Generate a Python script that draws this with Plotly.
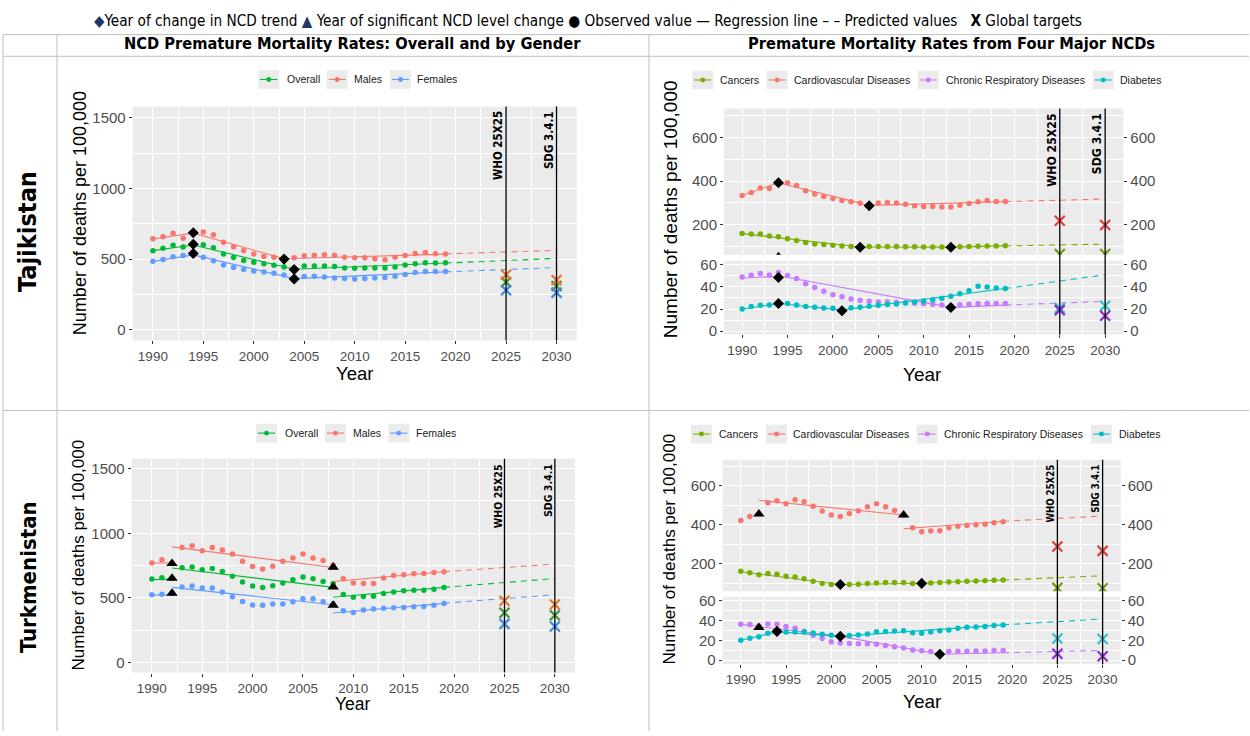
import plotly.graph_objects as go

W, H = 1250, 736

# ---------------- data ----------------
YEARS = list(range(1990, 2020))
TARGET_YEARS = [2025, 2030]
PRED_YEARS = [2019, 2030]

# Tajikistan: overall & by gender (deaths per 100,000)
taj_overall = [560, 577, 598, 586, 605, 602, 581, 537, 512, 491, 477, 467, 456, 444, 426,
               451, 451, 451, 447, 437, 435, 437, 437, 437, 444, 458, 467, 474, 472, 474]
taj_males = [644, 659, 683, 648, 686, 692, 673, 620, 588, 561, 537, 519, 513, 500, 510,
             523, 528, 530, 527, 514, 509, 509, 503, 496, 514, 526, 540, 546, 538, 537]
taj_females = [484, 498, 516, 526, 537, 514, 488, 458, 440, 426, 416, 409, 400, 388, 360,
               377, 379, 374, 367, 363, 360, 363, 367, 370, 379, 391, 405, 412, 412, 412]
taj_overall_reg = [(1990, 560, 1994, 600), (1994, 600, 2004, 428), (2004, 428, 2019, 472)]
taj_males_reg = [(1990, 642, 1994, 684), (1994, 684, 2003, 503), (2003, 503, 2019, 535)]
taj_females_reg = [(1990, 484, 1994, 530), (1994, 530, 2004, 362), (2004, 362, 2019, 410)]
taj_overall_pred = [472, 505]
taj_males_pred = [537, 562]
taj_females_pred = [410, 440]
taj_gender_trend_pts = [(1994, 686), (2003, 500), (1994, 605), (2004, 426), (1994, 540), (2004, 360)]
taj_overall_target = [337, 310]
taj_males_target = [390, 352]
taj_females_target = [280, 263]

# Tajikistan: four major NCDs
taj_cancers = [161, 158, 158, 149, 146, 137, 128, 119, 113, 110, 107, 104, 101, 98, 101,
               101, 101, 101, 100, 100, 99, 99, 99, 98, 100, 101, 102, 103, 104, 105]
taj_cvd = [334, 348, 368, 366, 392, 392, 380, 356, 341, 329, 320, 311, 305, 299, 287,
           300, 302, 300, 294, 287, 284, 284, 281, 281, 290, 297, 305, 311, 307, 307]
taj_crd = [49, 50.5, 52, 50.8, 53, 50.3, 47.5, 42.8, 39.4, 36, 33, 31, 29, 28, 27,
           26.4, 26.4, 26, 25.6, 25.3, 24.8, 24.2, 23.6, 21.4, 23.8, 24.2, 24.7, 25, 25, 25]
taj_diab = [20, 22.3, 23.5, 23.7, 25, 25, 23.7, 22.3, 21.5, 21, 20.7, 18.4, 21.2, 21.5, 22.4,
            23.3, 24, 24.6, 25.5, 26.4, 27.3, 28.3, 29.8, 31.6, 33.8, 36.6, 40.6, 40, 39, 38.5]
taj_cancers_reg = [(1990, 160, 2003, 99), (2003, 99, 2013, 98.5), (2013, 98.5, 2019, 104)]
taj_cvd_reg = [(1990, 335, 1994, 392), (1994, 392, 2004, 289), (2004, 289, 2019, 306)]
taj_crd_reg = [(1990, 48, 1994, 49.5), (1994, 50, 2013, 21.5), (2013, 21.5, 2019, 23.5)]
taj_diab_reg = [(1990, 19.8, 1994, 25), (1994, 25, 2001, 19), (2001, 19, 2019, 38.5)]
taj_cancers_pred = [104, 112]
taj_cvd_pred = [306, 318]
taj_crd_pred = [23.5, 27]
taj_diab_pred = [38.5, 51]
taj_ncd_upper_trend_pts = [(1994, 392), (2004, 287), (2003, 98), (2013, 98)]
taj_ncd_upper_level_pts = [(1994, 57)]
taj_ncd_lower_trend_pts = [(1994, 48.5), (2013, 21.4), (1994, 25), (2001, 18.5)]
taj_cancers_target = [67, 67]
taj_cvd_target = [219, 199]
taj_crd_target = [19, 14]
taj_diab_target = [21, 23]

# Turkmenistan: overall & by gender
tkm_overall = [646, 656, 652, 733, 740, 718, 728, 705, 667, 623, 593, 580, 595, 616, 641,
               662, 649, 628, 612, 527, 506, 511, 514, 534, 547, 555, 560, 560, 567, 580]
tkm_males = [771, 796, 770, 891, 903, 865, 891, 870, 840, 784, 743, 723, 746, 784, 809,
             840, 809, 789, 755, 649, 616, 611, 611, 654, 674, 679, 687, 690, 697, 702]
tkm_females = [524, 529, 535, 585, 593, 578, 578, 547, 509, 473, 445, 443, 453, 453, 471,
               494, 494, 471, 455, 402, 387, 407, 415, 420, 425, 427, 433, 435, 443, 458]
tkm_overall_reg = [(1990, 642, 1992, 646), (1992, 732, 2008, 582), (2008, 506, 2019, 582)]
tkm_males_reg = [(1990, 770, 1992, 770), (1992, 895, 2008, 735), (2008, 627, 2019, 703)]
tkm_females_reg = [(1990, 522, 1992, 525), (1992, 582, 2008, 448), (2008, 384, 2019, 458)]
tkm_overall_pred = [582, 650]
tkm_males_pred = [703, 762]
tkm_females_pred = [460, 525]
tkm_gender_level_pts = [(1992, 766), (1992, 652), (1992, 537), (2008, 738), (2008, 585), (2008, 443)]
tkm_overall_target = [386, 366]
tkm_males_target = [478, 450]
tkm_females_target = [300, 280]

# Turkmenistan: four major NCDs
tkm_cancers = [163, 155, 145, 152, 148, 138, 133, 125, 112, 100, 95, 97, 95, 97, 100,
               103, 105, 105, 105, 100, 103, 103, 105, 108, 110, 112, 113, 115, 117, 118]
tkm_cvd = [422, 442, 455, 513, 523, 508, 528, 517, 495, 470, 450, 442, 458, 472, 492,
           507, 492, 473, 450, 385, 365, 368, 370, 385, 393, 397, 400, 403, 410, 415]
tkm_crd = [36.2, 35.8, 34.5, 36.5, 36.2, 33.9, 32.2, 29, 25, 21.8, 18.6, 17.3, 16.8, 16.6, 16.5,
           16, 14.8, 13.5, 12.4, 10.4, 9.5, 8.9, 6.2, 8.8, 9, 9, 9.3, 9.4, 9.8, 9.8]
tkm_diab = [20, 22, 23.5, 27, 29, 28.3, 28.3, 28.7, 27.4, 26, 25, 24, 24.8, 25.4, 26.4,
            28.7, 29, 29.3, 29.6, 27.7, 27, 28.3, 29.6, 30.3, 32.2, 33.2, 33.5, 33.9, 34.9, 35.5]
tkm_cancers_reg = [(1990, 160, 2001, 95), (2001, 95, 2010, 102), (2010, 102, 2019, 118)]
tkm_cvd_reg = [(1992, 525, 2008, 450), (2008, 380, 2019, 418)]
tkm_crd_reg = [(1990, 36, 2001, 24), (2001, 24, 2012, 6), (2012, 6, 2019, 7.5)]
tkm_diab_reg = [(1990, 20, 1994, 28.5), (1994, 28.5, 2001, 24), (2001, 24, 2019, 35.5)]
tkm_cancers_pred = [118, 140]
tkm_cvd_pred = [418, 445]
tkm_crd_pred = [7.5, 10]
tkm_diab_pred = [35.5, 41.5]
tkm_ncd_upper_trend_pts = [(2001, 95), (2010, 101)]
tkm_ncd_upper_level_pts = [(1992, 455), (2008, 450)]
tkm_ncd_lower_trend_pts = [(1994, 29), (2001, 24), (2012, 6)]
tkm_ncd_lower_level_pts = [(1992, 33)]
tkm_cancers_target = [78, 76]
tkm_cvd_target = [289, 267]
tkm_crd_target = [6.6, 4]
tkm_diab_target = [21.8, 21.4]

# ---------------- style ----------------
C_OVERALL, C_MALES, C_FEMALES = "#00BA38", "#F8766D", "#619CFF"
C_CAN, C_CVD, C_CRD, C_DIA = "#7CAE00", "#F8766D", "#C77CFF", "#00BFC4"
T_OVERALL, T_MALES, T_FEMALES = "#3C9A34", "#E8772A", "#3D8FE3"
T_CAN, T_CVD, T_CRD, T_DIA = "#6E9E12", "#E63B40", "#8E2BD8", "#2DC2C8"

SANS = "Liberation Sans, Arial, Helvetica, sans-serif"
NARROW = "Liberation Sans Narrow, Arial Narrow, DejaVu Sans Condensed, sans-serif"
TICKFONT = dict(family=SANS, size=13.5, color="#4D4D4D")
GRID = "#FFFFFF"


def fx(p):
    return p / W


def fy(p):
    return 1 - p / H


fig = go.Figure()


def seg_xy(segs):
    xs, ys = [], []
    for x0, y0, x1, y1 in segs:
        xs += [x0, x1, None]
        ys += [y0, y1, None]
    return xs, ys


def draw_series(xa, ya, vals, reg, pred, color):
    fig.add_trace(go.Scatter(x=YEARS, y=vals, mode="markers", xaxis=xa, yaxis=ya,
                             marker=dict(color=color, size=5.5), showlegend=False, hoverinfo="skip"))
    sx, sy = seg_xy(reg)
    fig.add_trace(go.Scatter(x=sx, y=sy, mode="lines", xaxis=xa, yaxis=ya,
                             line=dict(color=color, width=1.1), showlegend=False, hoverinfo="skip"))
    fig.add_trace(go.Scatter(x=PRED_YEARS, y=pred, mode="lines", xaxis=xa, yaxis=ya,
                             line=dict(color=color, width=1.1, dash="6px,5px"),
                             showlegend=False, hoverinfo="skip"))


def draw_points(xa, ya, pts, symbol, size):
    if not pts:
        return
    fig.add_trace(go.Scatter(x=[p[0] for p in pts], y=[p[1] for p in pts], mode="markers",
                             xaxis=xa, yaxis=ya, marker=dict(color="black", size=size, symbol=symbol),
                             showlegend=False, hoverinfo="skip"))


def draw_target(xa, ya, vals, color):
    fig.add_trace(go.Scatter(x=TARGET_YEARS, y=vals, mode="markers", xaxis=xa, yaxis=ya,
                             marker=dict(symbol="x-thin", size=10, line=dict(color=color, width=2.2)),
                             showlegend=False, hoverinfo="skip"))


# ---- Tajikistan gender (x, y)
for vals, reg, pred, col in [(taj_overall, taj_overall_reg, taj_overall_pred, C_OVERALL),
                             (taj_males, taj_males_reg, taj_males_pred, C_MALES),
                             (taj_females, taj_females_reg, taj_females_pred, C_FEMALES)]:
    draw_series("x", "y", vals, reg, pred, col)
draw_points("x", "y", taj_gender_trend_pts, "diamond", 8.5)
for vals, col in [(taj_overall_target, T_OVERALL), (taj_males_target, T_MALES), (taj_females_target, T_FEMALES)]:
    draw_target("x", "y", vals, col)

# ---- Tajikistan NCDs upper (x2, y2) and lower (x3, y3)
draw_series("x2", "y2", taj_cvd, taj_cvd_reg, taj_cvd_pred, C_CVD)
draw_series("x2", "y2", taj_cancers, taj_cancers_reg, taj_cancers_pred, C_CAN)
draw_points("x2", "y2", taj_ncd_upper_trend_pts, "diamond", 8.5)
draw_points("x2", "y2", taj_ncd_upper_level_pts, "triangle-up", 9)
draw_target("x2", "y2", taj_cvd_target, T_CVD)
draw_target("x2", "y2", taj_cancers_target, T_CAN)
draw_series("x3", "y3", taj_crd, taj_crd_reg, taj_crd_pred, C_CRD)
draw_series("x3", "y3", taj_diab, taj_diab_reg, taj_diab_pred, C_DIA)
draw_points("x3", "y3", taj_ncd_lower_trend_pts, "diamond", 8.5)
draw_target("x3", "y3", taj_diab_target, T_DIA)
draw_target("x3", "y3", taj_crd_target, T_CRD)

# ---- Turkmenistan gender (x4, y4)
for vals, reg, pred, col in [(tkm_overall, tkm_overall_reg, tkm_overall_pred, C_OVERALL),
                             (tkm_males, tkm_males_reg, tkm_males_pred, C_MALES),
                             (tkm_females, tkm_females_reg, tkm_females_pred, C_FEMALES)]:
    draw_series("x4", "y4", vals, reg, pred, col)
draw_points("x4", "y4", tkm_gender_level_pts, "triangle-up", 10)
for vals, col in [(tkm_overall_target, T_OVERALL), (tkm_males_target, T_MALES), (tkm_females_target, T_FEMALES)]:
    draw_target("x4", "y4", vals, col)

# ---- Turkmenistan NCDs upper (x5, y5) and lower (x6, y6)
draw_series("x5", "y5", tkm_cvd, tkm_cvd_reg, tkm_cvd_pred, C_CVD)
draw_series("x5", "y5", tkm_cancers, tkm_cancers_reg, tkm_cancers_pred, C_CAN)
draw_points("x5", "y5", tkm_ncd_upper_trend_pts, "diamond", 8.5)
draw_points("x5", "y5", tkm_ncd_upper_level_pts, "triangle-up", 10)
draw_target("x5", "y5", tkm_cvd_target, T_CVD)
draw_target("x5", "y5", tkm_cancers_target, T_CAN)
draw_series("x6", "y6", tkm_crd, tkm_crd_reg, tkm_crd_pred, C_CRD)
draw_series("x6", "y6", tkm_diab, tkm_diab_reg, tkm_diab_pred, C_DIA)
draw_points("x6", "y6", tkm_ncd_lower_trend_pts, "diamond", 8.5)
draw_points("x6", "y6", tkm_ncd_lower_level_pts, "triangle-up", 10)
draw_target("x6", "y6", tkm_diab_target, T_DIA)
draw_target("x6", "y6", tkm_crd_target, T_CRD)

# invisible traces so the right-hand mirrored axes are drawn
for xa, ya in [("x2", "y7"), ("x3", "y8"), ("x5", "y9"), ("x6", "y10")]:
    fig.add_trace(go.Scatter(x=[None], y=[None], xaxis=xa, yaxis=ya, showlegend=False, hoverinfo="skip"))

# ---------------- axes ----------------
def xax(px0, px1, anchor, labels=True):
    return dict(domain=[fx(px0), fx(px1)], anchor=anchor, range=[1988, 2032],
                tickmode="linear", tick0=1990, dtick=5,
                minor=dict(tick0=1990, dtick=2.5, showgrid=True, gridcolor=GRID, gridwidth=0.55),
                showgrid=True, gridcolor=GRID, gridwidth=1.1, zeroline=False, showline=False,
                ticks="outside" if labels else "", ticklen=3, tickcolor="#333333", tickwidth=1,
                showticklabels=labels, tickfont=TICKFONT, fixedrange=True)


def yax(py0, py1, anchor, rng, dtick, mdtick, side="left", overlay=None):
    d = dict(anchor=anchor, range=rng, tickmode="linear", tick0=0, dtick=dtick,
             showgrid=overlay is None, gridcolor=GRID, gridwidth=1.1, zeroline=False, showline=False,
             ticks="outside", ticklen=3, tickcolor="#333333", tickwidth=1, side=side,
             tickfont=dict(family=SANS, size=15, color="#4D4D4D"), fixedrange=True)
    if overlay is None:
        d["domain"] = [fy(py1), fy(py0)]
        d["minor"] = dict(tick0=0, dtick=mdtick, showgrid=True, gridcolor=GRID, gridwidth=0.55)
    else:
        d["overlaying"] = overlay
    return d


TL = (132.7, 576.7, 103, 340)
TRX = (724, 1123.3)
TRU = (105, 253.3)
TRL = (259.3, 334)
BL = (131.7, 575, 460, 676.7)
BRX = (722.7, 1120.7)
BRU = (461, 594.3)
BRL = (600, 668.3)

R_TL = [-75, 1579]
R_TRU = [63, 731]
R_TRL = [-3, 63.6]
R_BL = [-76, 1576]
R_BRU = [61, 732]
R_BRL = [-4, 63.7]

layout_axes = dict(
    xaxis=xax(TL[0], TL[1], "y"),
    yaxis=yax(TL[2], TL[3], "x", R_TL, 500, 250),
    xaxis2=xax(TRX[0], TRX[1], "y2", labels=False),
    yaxis2=yax(TRU[0], TRU[1], "x2", R_TRU, 200, 100),
    xaxis3=xax(TRX[0], TRX[1], "y3"),
    yaxis3=yax(TRL[0], TRL[1], "x3", R_TRL, 20, 10),
    xaxis4=xax(BL[0], BL[1], "y4"),
    yaxis4=yax(BL[2], BL[3], "x4", R_BL, 500, 250),
    xaxis5=xax(BRX[0], BRX[1], "y5", labels=False),
    yaxis5=yax(BRU[0], BRU[1], "x5", R_BRU, 200, 100),
    xaxis6=xax(BRX[0], BRX[1], "y6"),
    yaxis6=yax(BRL[0], BRL[1], "x6", R_BRL, 20, 10),
    yaxis7=yax(TRU[0], TRU[1], "x2", R_TRU, 200, 100, side="right", overlay="y2"),
    yaxis8=yax(TRL[0], TRL[1], "x3", R_TRL, 20, 10, side="right", overlay="y3"),
    yaxis9=yax(BRU[0], BRU[1], "x5", R_BRU, 200, 100, side="right", overlay="y5"),
    yaxis10=yax(BRL[0], BRL[1], "x6", R_BRL, 20, 10, side="right", overlay="y6"),
)

shapes = []
annotations = []

# ---------------- table frame ----------------
LINE_C = "#BFBFBF"
for yy in [30, 52, 411]:
    shapes.append(dict(type="line", xref="paper", yref="paper", x0=fx(3), x1=fx(1249),
                       y0=fy(yy), y1=fy(yy), line=dict(color=LINE_C, width=1)))
for xx in [3, 57, 649]:
    shapes.append(dict(type="line", xref="paper", yref="paper", x0=fx(xx), x1=fx(xx),
                       y0=fy(30), y1=fy(736), line=dict(color=LINE_C, width=1)))

# ---------------- target year vertical lines + labels ----------------
def vlines(xref, top, bottom, fsize):
    for yr, lab in zip(TARGET_YEARS, ["WHO 25X25", "SDG 3.4.1"]):
        shapes.append(dict(type="line", xref=xref, yref="paper", x0=yr, x1=yr,
                           y0=fy(bottom), y1=fy(top), line=dict(color="black", width=1.3)))
        annotations.append(dict(x=yr, xref=xref, y=fy(top + 3), yref="paper", text="<b>" + lab + "</b>",
                                textangle=-90, xanchor="right", yanchor="top", showarrow=False,
                                xshift=1, font=dict(family=NARROW, size=fsize, color="black")))


vlines("x", TL[2], TL[3], 11.5)
vlines("x2", TRU[0], TRL[1], 12.2)
vlines("x4", BL[2], BL[3], 10.6)
vlines("x5", BRU[0], BRL[1], 9.6)

# ---------------- legends ----------------
def legend(keys_x, texts_x, yc, labels, colors):
    for kx, tx, lab, col in zip(keys_x, texts_x, labels, colors):
        shapes.append(dict(type="rect", xref="paper", yref="paper", x0=fx(kx), x1=fx(kx + 21),
                           y0=fy(yc + 9.5), y1=fy(yc - 9.5), fillcolor="#EBEBEB", line=dict(width=0)))
        shapes.append(dict(type="line", xref="paper", yref="paper", x0=fx(kx + 2), x1=fx(kx + 19),
                           y0=fy(yc), y1=fy(yc), line=dict(color=col, width=1.1)))
        shapes.append(dict(type="circle", xref="paper", yref="paper", x0=fx(kx + 8), x1=fx(kx + 13),
                           y0=fy(yc + 2.5), y1=fy(yc - 2.5), fillcolor=col, line=dict(width=0)))
        annotations.append(dict(x=fx(tx - 2), y=fy(yc), xref="paper", yref="paper", text=lab,
                                xanchor="left", yanchor="middle", showarrow=False,
                                font=dict(family=SANS, size=10.5, color="#1A1A1A")))


GENDER_LABELS = ["Overall", "Males", "Females"]
NCD_LABELS = ["Cancers", "Cardiovascular Diseases", "Chronic Respiratory Diseases", "Diabetes"]
legend([258.3, 326.7, 390], [286.7, 354.3, 417.3], 75.5, GENDER_LABELS, [C_OVERALL, C_MALES, C_FEMALES])
legend([692.3, 766.7, 917.7, 1092.7], [720, 794, 945.7, 1120], 76, NCD_LABELS, [C_CAN, C_CVD, C_CRD, C_DIA])
legend([256, 325, 388.3], [285, 352.7, 415.7], 434, GENDER_LABELS, [C_OVERALL, C_MALES, C_FEMALES])
legend([691, 766, 916.7, 1091], [719, 793.3, 944, 1119], 435, NCD_LABELS, [C_CAN, C_CVD, C_CRD, C_DIA])

# ---------------- axis titles ----------------
def ann(x, y, text, size, angle=0, family=SANS, color="black", pad=1):
    annotations.append(dict(x=fx(x), y=fy(y), xref="paper", yref="paper", text=text, textangle=angle,
                            xanchor="center", yanchor="middle", showarrow=False, borderpad=pad,
                            font=dict(family=family, size=size, color=color)))


YT = "Number of deaths per 100,000"
ann(80, 211, YT, 18, -90)
ann(670, 207, YT, 19, -90)
ann(78, 558, YT, 17, -90)
ann(669, 552, YT, 17, -90)
ann(355, 374, "Year", 18.5, pad=0)
ann(923, 375, "Year", 19, pad=0)
ann(353, 709, "Year", 17.5, pad=0)
ann(922, 706, "Year", 19, pad=0)

# ---------------- headers ----------------
NAVY = "#1F3864"
top_legend = ("<span style='color:%s'>◆</span>Year of change in NCD trend "
              "<span style='color:%s'>▲</span> Year of significant NCD level change "
              "● Observed value — Regression line – – Predicted values &nbsp; <b>X</b> Global targets") % (NAVY, NAVY)
ann(587.5, 16, top_legend, 15.2, family=NARROW)
ann(352, 39.5, "<b>NCD Premature Mortality Rates: Overall and by Gender</b>", 16.3, family=NARROW)
ann(951, 39.5, "<b>Premature Mortality Rates from Four Major NCDs</b>", 16.3, family=NARROW)
ann(28, 230, "<b>Tajikistan</b>", 25, -90, family=NARROW)
ann(28, 580, "<b>Turkmenistan</b>", 22, -90, family=NARROW)

fig.update_layout(
    width=W, height=H, margin=dict(l=0, r=0, t=0, b=0),
    paper_bgcolor="white", plot_bgcolor="#EBEBEB",
    showlegend=False, shapes=shapes, annotations=annotations,
    font=dict(family=SANS),
    **layout_axes,
)

fig.write_html("out.html", config={"displayModeBar": False},
               post_script="document.body.style.margin='0';")
